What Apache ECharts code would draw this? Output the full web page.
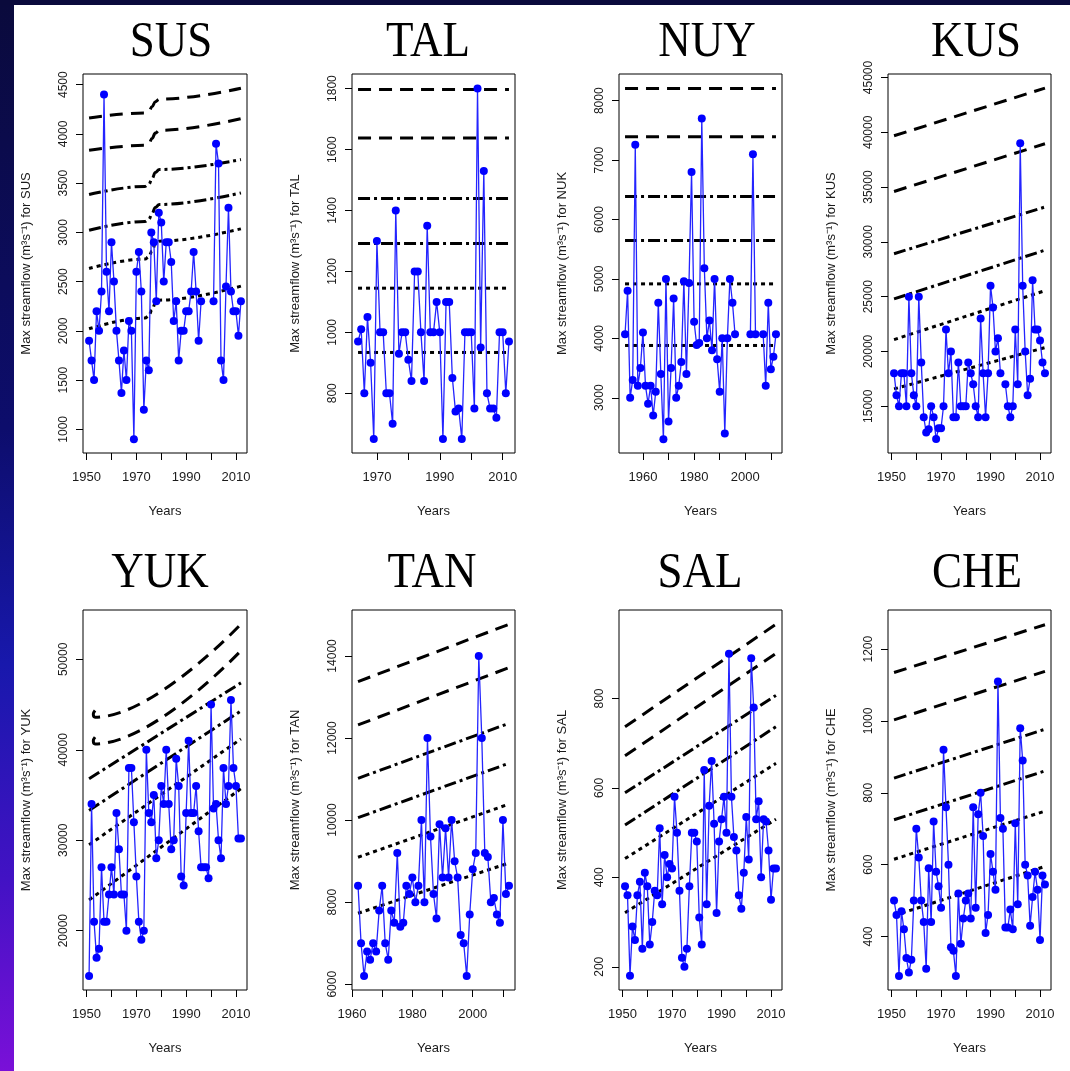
<!DOCTYPE html>
<html>
<head>
<meta charset="utf-8">
<script src="https://cdn.jsdelivr.net/npm/echarts@6/dist/echarts.min.js"></script>
<style>
html, body { margin: 0; padding: 0; background: #fff; }
#strip-left { position: absolute; left: 0; top: 0; width: 14px; height: 1071px;
  background: linear-gradient(#0a0a3c, #0d0d6c 40%, #1818ac 62%, #4212c4 82%, #7a10d8); }
#strip-top { position: absolute; left: 0; top: 0; width: 1070px; height: 5px; background: #0a0a3c; }
#main { position: absolute; left: 0; top: 0; width: 1070px; height: 1071px; }
</style>
</head>
<body>
<div id="strip-left"></div>
<div id="strip-top"></div>
<div id="main"></div>
<script>
// yearly max flow, one value per year from the start year (null = no record)
const susStart = 1951;
const susFlow = [1900, 1700, 1500, 2200, 2000, 2400, 4400, 2600, 2200, 2900,
  2500, 2000, 1700, 1370, 1800, 1500, 2100, 2000, 900, 2600,
  2800, 2400, 1200, 1700, 1600, 3000, 2900, 2300, 3200, 3100,
  2500, 2900, 2900, 2700, 2100, 2300, 1700, 2000, 2000, 2200,
  2200, 2400, 2800, 2400, 1900, 2300, null, null, null, null,
  2300, 3900, 3700, 1700, 1500, 2450, 3250, 2400, 2200, 2200,
  1950, 2300];
// return level curves: [year, flow] knots
const susRef = [
  [[1951, 4162], [1973.5, 4212], [1975, 4228], [1976.3, 4275], [1977.6, 4327], [1979.2, 4352], [2012, 4463]],
  [[1951, 3834], [1973.5, 3884], [1975, 3902], [1976.3, 3952], [1977.6, 4008], [1979.2, 4036], [2012, 4155]],
  [[1951, 3384], [1973.5, 3467], [1975, 3488], [1976.3, 3545], [1977.6, 3608], [1979.2, 3638], [2012, 3739]],
  [[1951, 3022], [1973.5, 3111], [1975, 3133], [1976.3, 3190], [1977.6, 3253], [1979.2, 3283], [2012, 3401]],
  [[1951, 2633], [1973.5, 2729], [1975, 2752], [1976.3, 2813], [1977.6, 2880], [1979.2, 2911], [2012, 3036]],
  [[1951, 2021], [1973.5, 2131], [1975, 2154], [1976.3, 2214], [1977.6, 2281], [1979.2, 2312], [2012, 2454]]
];

const talStart = 1964;
const talFlow = [970, 1010, 800, 1050, 900, 650, 1300, 1000, 1000, 800,
  800, 700, 1400, 930, 1000, 1000, 910, 840, 1200, 1200,
  1000, 840, 1350, 1000, 1000, 1100, 1000, 650, 1100, 1100,
  850, 740, 750, 650, 1000, 1000, 1000, 750, 1800, 950,
  1530, 800, 750, 750, 720, 1000, 1000, 800, 970];
const talRef = [
  [[1964, 1797], [2012, 1797]], [[1964, 1638], [2012, 1638]],
  [[1964, 1439], [2012, 1439]], [[1964, 1292], [2012, 1292]],
  [[1964, 1145], [2012, 1145]], [[1964, 934], [2012, 934]]
];

const nuyStart = 1953;
const nuyFlow = [4070, 4800, 3000, 3300, 7260, 3200, 3500, 4100, 3200, 2900,
  3200, 2700, 3100, 4600, 3400, 2300, 5000, 2600, 3500, 4670,
  3000, 3200, 3600, 4960, 3400, 4930, 6800, 4280, 3890, 3920,
  7700, 5180, 4000, 4300, 3800, 5000, 3650, 3100, 4000, 2400,
  4000, 5000, 4600, 4070, null, null, null, null, null, 4070,
  7100, 4070, null, null, 4070, 3200, 4600, 3480, 3690, 4070];
const nuyRef = [
  [[1953, 8207], [2012, 8207]], [[1953, 7395], [2012, 7395]],
  [[1953, 6386], [2012, 6386]], [[1953, 5646], [2012, 5646]],
  [[1953, 4917], [2012, 4917]], [[1953, 3880], [2012, 3880]]
];

const kusStart = 1951;
const kusFlow = [18000, 16000, 15000, 18000, 18000, 15000, 25000, 18000, 16000, 15000,
  25000, 19000, 14000, 12600, 12900, 15000, 14000, 12000, 13000, 13000,
  15000, 22000, 18000, 20000, 14000, 14000, 19000, 15000, 15000, 15000,
  19000, 18000, 17000, 15000, 14000, 23000, 18000, 14000, 18000, 26000,
  24000, 20000, 21200, 18000, null, 17000, 15000, 14000, 15000, 22000,
  17000, 39000, 26000, 20000, 16000, 17500, 26500, 22000, 22000, 21000,
  19000, 18000];
const kusRef = [
  [[1951, 39680], [2012, 44030]], [[1951, 34600], [2012, 38950]],
  [[1951, 28920], [2012, 33180]], [[1951, 24790], [2012, 29240]],
  [[1951, 21080], [2012, 25540]], [[1951, 16580], [2012, 20350]]
];

const yukStart = 1951;
const yukFlow = [15000, 34000, 21000, 17000, 18000, 27000, 21000, 21000, 24000, 27000,
  24000, 33000, 29000, 24000, 24000, 20000, 38000, 38000, 32000, 26000,
  21000, 19000, 20000, 40000, 33000, 32000, 35000, 28000, 30000, 36000,
  34000, 40000, 34000, 29000, 30000, 39000, 36000, 26000, 25000, 33000,
  41000, 33000, 33000, 36000, 31000, 27000, 27000, 27000, 25800, 45000,
  33500, 34000, 30000, 28000, 38000, 34000, 36000, 45500, 38000, 36000,
  30200, 30200];
const yukRef = [
  [[1953.4, 44350], [1952.7, 43950], [1953.4, 43600], [2012, 53900]],
  [[1953.4, 41400], [1952.7, 41000], [1953.4, 40650], [2012, 50960]],
  [[1951, 36800], [2012, 47400]],
  [[1951, 33300], [2012, 44300]],
  [[1951, 29500], [2012, 41200]],
  [[1951, 23400], [2012, 35700]]
];

const tanStart = 1962;
const tanFlow = [8400, 7000, 6200, 6800, 6600, 7000, 6800, 7800, 8400, 7000,
  6600, 7800, 7500, 9200, 7400, 7500, 8400, 8200, 8600, 8000,
  8400, 10000, 8000, 12000, 9600, 8200, 7600, 9900, 8600, 9800,
  8600, 10000, 9000, 8600, 7200, 7000, 6200, 7700, 8800, 9200,
  14000, 12000, 9200, 9100, 8000, 8100, 7700, 7500, 10000, 8200,
  8400];
const tanRef = [
  [[1962, 13375], [2012, 14772]], [[1962, 12319], [2012, 13716]],
  [[1962, 11019], [2012, 12359]], [[1962, 10060], [2012, 11385]],
  [[1962, 9094], [2012, 10390]], [[1962, 7730], [2012, 8955]]
];

const salStart = 1951;
const salFlow = [380, 360, 180, 290, 260, 360, 390, 240, 410, 380,
  250, 300, 370, 360, 510, 340, 450, 400, 430, 420,
  580, 500, 370, 220, 200, 240, 380, 500, 500, 480,
  310, 250, 640, 340, 560, 660, 520, 320, 480, 530,
  580, 500, 900, 580, 490, 460, 360, 330, 410, 535,
  440, 890, 780, 530, 570, 400, 530, 525, 460, 350,
  420, 420];
const salRef = [
  [[1951, 737], [2012, 966]], [[1951, 672], [2012, 901]],
  [[1951, 589], [2012, 807]], [[1951, 517], [2012, 737]],
  [[1951, 442], [2012, 655]], [[1951, 321], [2012, 530]]
];

const cheStart = 1951;
const cheFlow = [500, 460, 290, 470, 420, 340, 300, 335, 500, 700,
  620, 500, 440, 310, 590, 440, 720, 580, 540, 480,
  920, 760, 600, 370, 360, 290, 520, 380, 450, 500,
  520, 450, 760, 480, 740, 800, 680, 410, 460, 630,
  580, 530, 1110, 730, 700, 425, 425, 475, 420, 715,
  490, 980, 890, 600, 570, 430, 510, 580, 530, 390,
  570, 545];
const cheRef = [
  [[1951, 1135], [2012, 1268]], [[1951, 1003], [2012, 1138]],
  [[1951, 841], [2012, 977]], [[1951, 725], [2012, 861]],
  [[1951, 615], [2012, 749]], [[1951, 458], [2012, 595]]
];

// tick values
const decadeTicks = [1950, 1960, 1970, 1980, 1990, 2000, 2010];
const oddDecadeLabels = [1950, 1970, 1990, 2010];
const talXTicks = [1970, 1980, 1990, 2000, 2010];
const talXLabels = [1970, 1990, 2010];
const laterTicks = [1960, 1970, 1980, 1990, 2000, 2010];
const evenDecadeLabels = [1960, 1980, 2000];
const susYTicks = [1000, 1500, 2000, 2500, 3000, 3500, 4000, 4500];
const talYTicks = [800, 1000, 1200, 1400, 1600, 1800];
const nuyYTicks = [3000, 4000, 5000, 6000, 7000, 8000];
const kusYTicks = [15000, 20000, 25000, 30000, 35000, 40000, 45000];
const yukYTicks = [20000, 30000, 40000, 50000];
const tanYTicks = [6000, 8000, 10000, 12000, 14000];
const salYTicks = [200, 400, 600, 800];
const cheYTicks = [400, 600, 800, 1000, 1200];

const panels = [
  { name: 'SUS', start: susStart, flow: susFlow, ref: susRef, xr: [1948.56, 2014.44], yr: [760, 4608], xt: decadeTicks, xl: oddDecadeLabels, yt: susYTicks },
  { name: 'TAL', start: talStart, flow: talFlow, ref: talRef, xr: [1962.08, 2013.92], yr: [604, 1848], xt: talXTicks, xl: talXLabels, yt: talYTicks },
  { name: 'NUY', axisName: 'NUK', start: nuyStart, flow: nuyFlow, ref: nuyRef, xr: [1950.64, 2014.36], yr: [2070, 8450], xt: laterTicks, xl: evenDecadeLabels, yt: nuyYTicks },
  { name: 'KUS', start: kusStart, flow: kusFlow, ref: kusRef, xr: [1948.56, 2014.44], yr: [10730, 45320], xt: decadeTicks, xl: oddDecadeLabels, yt: kusYTicks },
  { name: 'YUK', start: yukStart, flow: yukFlow, ref: yukRef, xr: [1948.56, 2014.44], yr: [13440, 55460], xt: decadeTicks, xl: oddDecadeLabels, yt: yukYTicks },
  { name: 'TAN', start: tanStart, flow: tanFlow, ref: tanRef, xr: [1960, 2014], yr: [5860, 15120], xt: laterTicks, xl: evenDecadeLabels, yt: tanYTicks },
  { name: 'SAL', start: salStart, flow: salFlow, ref: salRef, xr: [1948.56, 2014.44], yr: [148, 998], xt: decadeTicks, xl: oddDecadeLabels, yt: salYTicks },
  { name: 'CHE', start: cheStart, flow: cheFlow, ref: cheRef, xr: [1948.56, 2014.44], yr: [251, 1309], xt: decadeTicks, xl: oddDecadeLabels, yt: cheYTicks }
];

// layout
const cols = [[83, 164], [352, 163], [619, 163], [888, 163]];
const rows = [[74, 379], [610, 380]];
const titleX = [171, 428, 707, 976, 160, 432, 700, 977];
const titleY = [43, 574];
const dashes = [[13, 8], [13, 8], [12, 4, 3, 4], [12, 4, 3, 4], [4, 4], [4, 4]];
const textFont = "'Liberation Sans', Arial, sans-serif";

const chart = echarts.init(document.getElementById('main'), null, { renderer: 'canvas' });

const grid = [], xAxis = [], yAxis = [], series = [], graphic = [];
panels.forEach((p, i) => {
  const c = cols[i % 4], r = rows[Math.floor(i / 4)];
  grid.push({ left: c[0], top: r[0], width: c[1], height: r[1], show: true,
    borderColor: '#000', borderWidth: 1, backgroundColor: 'transparent' });
  xAxis.push({
    type: 'value', gridIndex: i, min: p.xr[0], max: p.xr[1],
    axisLine: { show: false }, splitLine: { show: false },
    axisTick: { show: true, length: 7, customValues: p.xt, lineStyle: { color: '#000', width: 1 } },
    axisLabel: { customValues: p.xl, margin: 18, fontSize: 13, color: '#1a1a1a', fontFamily: textFont,
      formatter: v => String(v) },
    name: 'Years', nameLocation: 'middle', nameGap: 52,
    nameTextStyle: { fontSize: 13, color: '#1a1a1a', fontFamily: textFont }
  });
  yAxis.push({
    type: 'value', gridIndex: i, min: p.yr[0], max: p.yr[1],
    axisLine: { show: false }, splitLine: { show: false },
    axisTick: { show: true, length: 7, customValues: p.yt, lineStyle: { color: '#000', width: 1 } },
    axisLabel: { customValues: p.yt, rotate: 90, margin: 13, fontSize: 12, color: '#1a1a1a',
      fontFamily: textFont, formatter: v => String(v) },
    name: 'Max streamflow (m\u00b3s\u207b\u00b9) for ' + (p.axisName || p.name),
    nameLocation: 'middle', nameRotate: 90, nameGap: 50,
    nameTextStyle: { fontSize: 13, color: '#1a1a1a', fontFamily: textFont }
  });
  p.ref.forEach((knots, k) => {
    series.push({
      type: 'line', xAxisIndex: i, yAxisIndex: i, data: knots, symbol: 'none',
      smooth: knots.length > 2 ? 0.4 : false,
      smoothMonotone: p.name === 'SUS' ? 'x' : undefined,
      lineStyle: { color: '#000', width: 3, type: dashes[k], cap: 'butt' },
      silent: true, z: 2, animation: false
    });
  });
  series.push({
    type: 'line', xAxisIndex: i, yAxisIndex: i,
    data: p.flow.map((v, j) => [p.start + j, v]),
    symbol: 'circle', symbolSize: 8, showSymbol: true, connectNulls: false,
    itemStyle: { color: '#0000ff' },
    lineStyle: { color: '#2424ff', width: 1.3 },
    z: 3, animation: false
  });
  graphic.push({
    type: 'text', x: titleX[i], y: titleY[Math.floor(i / 4)], scaleX: 0.9,
    style: { text: p.name, fill: '#000', font: "50px 'Liberation Serif', 'Times New Roman', serif",
      textAlign: 'center', textVerticalAlign: 'middle', align: 'center', verticalAlign: 'middle' }
  });
});

chart.setOption({ animation: false, grid, xAxis, yAxis, series, graphic });
</script>
</body>
</html>
